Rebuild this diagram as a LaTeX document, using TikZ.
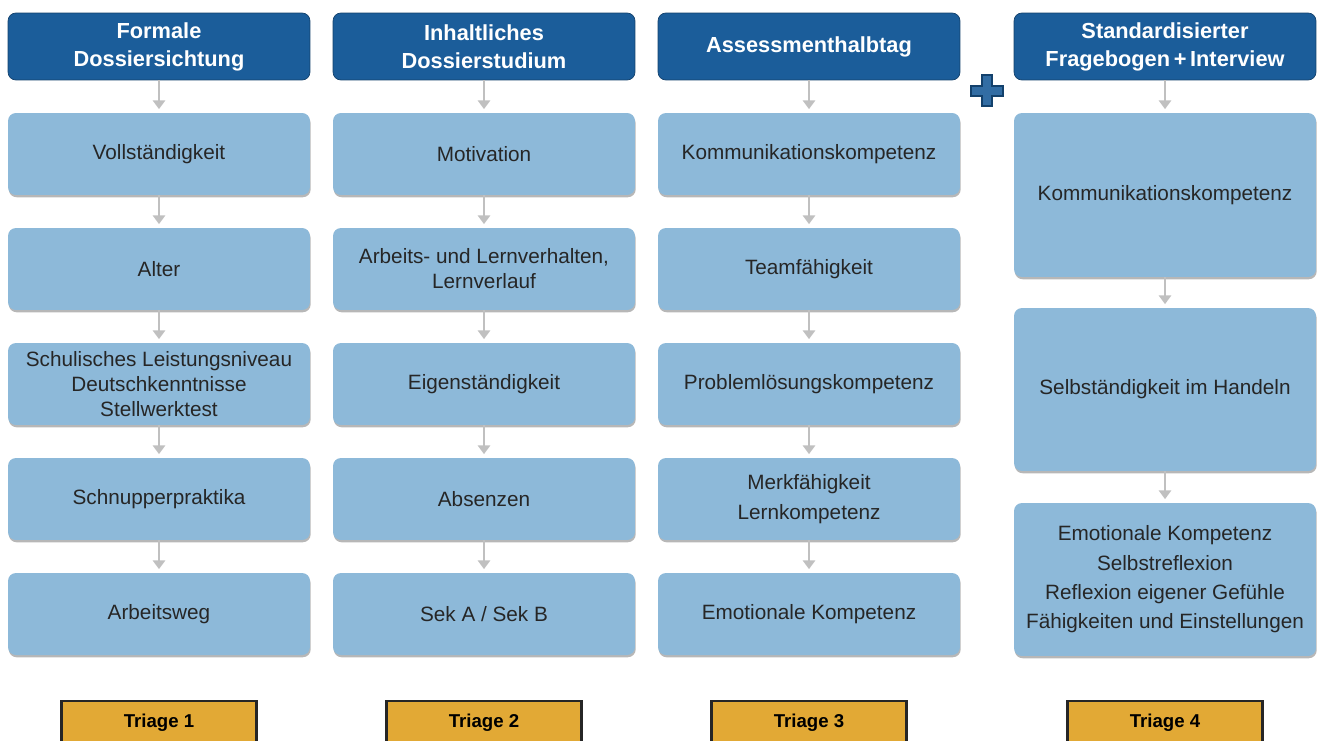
\documentclass[tikz,border=0pt]{standalone}
\usepackage{fontspec}
\setmainfont{Liberation Sans}
\usetikzlibrary{shadows,arrows.meta}
\definecolor{headblue}{HTML}{1B5D9A}
\definecolor{boxblue}{HTML}{8DB9D9}
\definecolor{triagegold}{HTML}{E2A935}
\definecolor{arrowgray}{HTML}{C0C0C0}
\begin{document}
\begin{tikzpicture}[x=0.02cm,y=-0.02cm]
	\tikzset{
		head/.style={draw=headblue!70!black, fill=headblue, text=white, rounded corners=4.5pt,
			align=center, minimum width=6.04cm, minimum height=1.34cm,
			font=\fontsize{12.4}{16}\selectfont\bfseries},
		item/.style={fill=boxblue, text=black!85, rounded corners=4.5pt, align=center,
			minimum width=6.04cm, minimum height=1.64cm, font=\fontsize{11.8}{14.2}\selectfont,
			drop shadow={shadow xshift=0.4pt, shadow yshift=-1.3pt, fill=black!40, opacity=0.7}},
		triage/.style={draw=black!85, line width=1.3pt, fill=triagegold, minimum width=3.9cm,
			minimum height=0.88cm, font=\fontsize{10.6}{12}\selectfont\bfseries},
		arr/.style={draw=arrowgray, line width=1.6pt, -{Triangle[length=5pt,width=7pt]}, shorten >=2pt}
	}
	\useasboundingbox (0,0) rectangle (1317,740);
	% headers
	\node[head] (h1) at (159,46.5) {Formale\\Dossiersichtung};
	\node[head] (h2) at (484,46.5) {Inhaltliches\\Dossierstudium};
	\node[head] (h3) at (809,46.5) {Assessmenthalbtag};
	\node[head] (h4) at (1165,46.5) {Standardisierter\\Fragebogen\,+\,Interview};
	% column 1
	\node[item] (c1n1) at (159,154) {Vollständigkeit};
	\node[item] (c1n2) at (159,269) {Alter};
	\node[item] (c1n3) at (159,384) {Schulisches Leistungsniveau\\Deutschkenntnisse\\Stellwerktest};
	\node[item] (c1n4) at (159,499) {Schnupperpraktika};
	\node[item] (c1n5) at (159,614) {Arbeitsweg};
	% column 2
	\node[item] (c2n1) at (484,154) {Motivation};
	\node[item] (c2n2) at (484,269) {Arbeits- und Lernverhalten,\\Lernverlauf};
	\node[item] (c2n3) at (484,384) {Eigenständigkeit};
	\node[item] (c2n4) at (484,499) {Absenzen};
	\node[item] (c2n5) at (484,614) {Sek A / Sek B};
	% column 3
	\node[item] (c3n1) at (809,154) {Kommunikationskompetenz};
	\node[item] (c3n2) at (809,269) {Teamfähigkeit};
	\node[item] (c3n3) at (809,384) {Problemlösungskompetenz};
	\node[item] (c3n4) at (809,499) {Merkfähigkeit\\[2.5pt]Lernkompetenz};
	\node[item] (c3n5) at (809,614) {Emotionale Kompetenz};
	% column 4
	\node[item, minimum height=3.28cm] (c4n1) at (1165,195) {Kommunikationskompetenz};
	\node[item, minimum height=3.26cm] (c4n2) at (1165,389.5) {Selbständigkeit im Handeln};
	\node[item, minimum height=3.06cm] (c4n3) at (1165,579.5) {Emotionale Kompetenz\\[2.5pt]Selbstreflexion\\[2.5pt]Reflexion eigener Gefühle\\[2.5pt]Fähigkeiten und Einstellungen};
	% triage
	\node[triage] (t1) at (159,723) {Triage 1};
	\node[triage] (t2) at (484,723) {Triage 2};
	\node[triage] (t3) at (809,723) {Triage 3};
	\node[triage] (t4) at (1165,723) {Triage 4};
	% arrows
	\foreach \c in {1,2,3} {
		\draw[arr] (node cs:name=h\c,anchor=south) -- (node cs:name=c\c n1,anchor=north);
		\draw[arr] (node cs:name=c\c n1,anchor=south) -- (node cs:name=c\c n2,anchor=north);
		\draw[arr] (node cs:name=c\c n2,anchor=south) -- (node cs:name=c\c n3,anchor=north);
		\draw[arr] (node cs:name=c\c n3,anchor=south) -- (node cs:name=c\c n4,anchor=north);
		\draw[arr] (node cs:name=c\c n4,anchor=south) -- (node cs:name=c\c n5,anchor=north);
	}
	\draw[arr] (node cs:name=h4,anchor=south) -- (node cs:name=c4n1,anchor=north);
	\draw[arr] (node cs:name=c4n1,anchor=south) -- (node cs:name=c4n2,anchor=north);
	\draw[arr] (node cs:name=c4n2,anchor=south) -- (node cs:name=c4n3,anchor=north);
	% plus sign
	\draw[fill=headblue!90!white, draw=headblue!70!black, line width=0.6pt]
		(982,75) -- (992,75) -- (992,86) -- (1003,86) -- (1003,96) -- (992,96) -- (992,106)
		-- (982,106) -- (982,96) -- (971,96) -- (971,86) -- (982,86) -- cycle;
\end{tikzpicture}
\end{document}
